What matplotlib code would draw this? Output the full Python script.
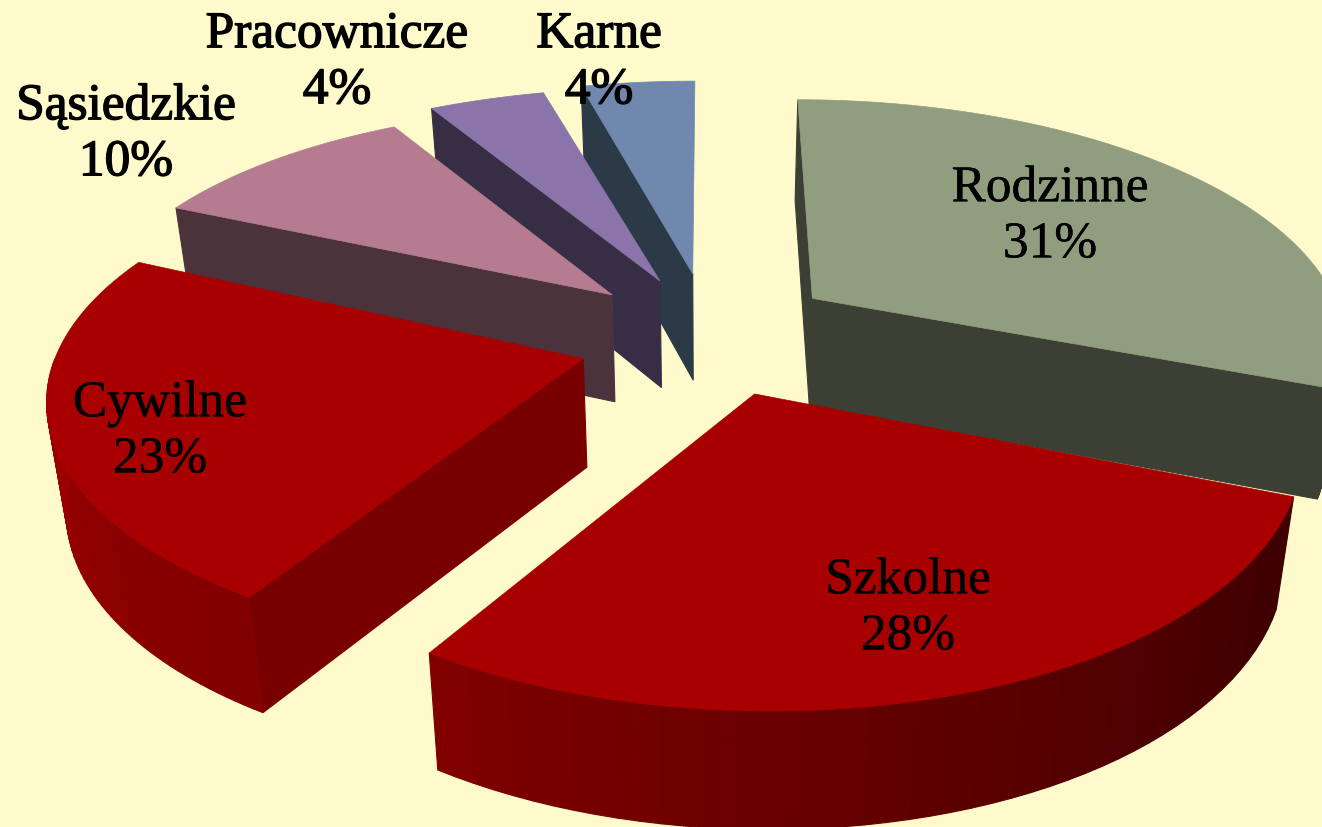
import numpy as np
import matplotlib
matplotlib.use("Agg")
import matplotlib.pyplot as plt
import matplotlib.patheffects as pe

categories = ["Rodzinne", "Szkolne", "Cywilne", "Sąsiedzkie", "Pracownicze", "Karne"]
values = [31, 28, 23, 10, 4, 4]

top_colors = ["#909D7F", "#A80000", "#A80000", "#B57B90", "#8A74A9", "#7088AE"]
cut_colors = ["#3C4034", "#5A0000", "#780000", "#4A333B", "#372D45", "#2C3A47"]
wall_ramp_a = [90, 120, 212, 270]
wall_ramp_red = [60, 62, 128, 158]
label_xy = [(1050, 185), (908, 577), (160, 400), (126, 103), (337, 31), (599, 31)]
label_stroke = [0.3, 0.3, 0.3, 1.0, 1.0, 1.0]
draw_order = [5, 4, 3, 0, 2, 1]

BG = "#FFFACB"
CX, CY, R, S, K, H, TAPER = 708, 328, 550, 0.44, 0.17, 108, 0.03
EXPLODE = 0.23
nudge = [(2, 2), (6, 12), (-2, 16), (-6, 5), (-3, 4), (0, 0)]
radius_u = [0.97, 0.94, 0.95, 0.96, 1.02, 1.0]
radius_v = [1.0, 1.0, 0.98, 0.95, 1.0, 1.0]
shear_u = [0.0, -0.01, -0.03, -0.027, -0.015, 0.0]


def project(u, v, z, off):
    w = 1 - K * v
    x = CX + off[0] + R * u / w * (1 - TAPER * z)
    y = CY + off[1] + R * S * v / w + H * z / w ** 0.4
    return x, y


fig = plt.figure(figsize=(13.22, 8.28), dpi=100, facecolor=BG)
ax = fig.add_axes([0, 0, 1, 1])
ax.set_xlim(0, 1322)
ax.set_ylim(828, 0)
ax.axis("off")

total = sum(values)
edges = np.concatenate([[0], np.cumsum(values)]) / total * 360


def quad(p, q, color, zorder):
    ax.fill([p[0][0], q[0][0], q[0][1], p[0][1]], [p[1][0], q[1][0], q[1][1], p[1][1]],
            color=color, lw=0.8, zorder=zorder)


for rank, i in enumerate(draw_order):
    t0, t1 = edges[i], edges[i + 1]
    mid = np.radians((t0 + t1) / 2)
    c = (EXPLODE * np.sin(mid), -EXPLODE * np.cos(mid))
    off = nudge[i]
    z = 10 + rank * 3
    zz = np.array([0.0, 1.0])

    def ring(theta):
        a = np.radians(theta)
        return (c[0] + radius_u[i] * np.sin(a) + shear_u[i] * np.cos(a),
                c[1] - radius_v[i] * np.cos(a))

    for t, visible in ((t0, np.sin(np.radians(t0)) < 0.01), (t1, np.sin(np.radians(t1)) > 0)):
        if visible:
            eu, ev = ring(t)
            xs = [project(c[0], c[1], 0, off), project(eu, ev, 0, off),
                  project(eu, ev, 1, off), project(c[0], c[1], 1, off)]
            ax.fill(*zip(*xs), color=cut_colors[i], lw=0.8, zorder=z)

    lo, hi = max(t0, 90), min(t1, 270)
    if lo < hi:
        tt = np.linspace(lo, hi, 50)
        for a, b in zip(tt[:-1], tt[1:]):
            ua, va = ring(a)
            ub, vb = ring(b)
            red = np.interp((a + b) / 2, wall_ramp_a, wall_ramp_red) / 255
            col = (red, 0, 0) if i in (1, 2) else cut_colors[i]
            quad(project(np.array([ua, ua]), np.array([va, va]), zz, off),
                 project(np.array([ub, ub]), np.array([vb, vb]), zz, off), col, z)

    tt = np.linspace(t0, t1, 80)
    uu, vv = ring(tt)
    uu = np.concatenate([[c[0]], uu])
    vv = np.concatenate([[c[1]], vv])
    px, py = project(uu, vv, 0, off)
    ax.fill(px, py, color=top_colors[i], lw=0.5, zorder=z + 1)

for name, val, xy, sw in zip(categories, values, label_xy, label_stroke):
    txt = ax.text(xy[0], xy[1] + 33, f"{name}\n{val}%", family="Liberation Serif", fontsize=37,
                  ha="center", va="center", color="black", linespacing=1.27, zorder=100)
    txt.set_path_effects([pe.withStroke(linewidth=sw, foreground="black")])

fig.savefig("out.png", dpi=100, facecolor=BG)
